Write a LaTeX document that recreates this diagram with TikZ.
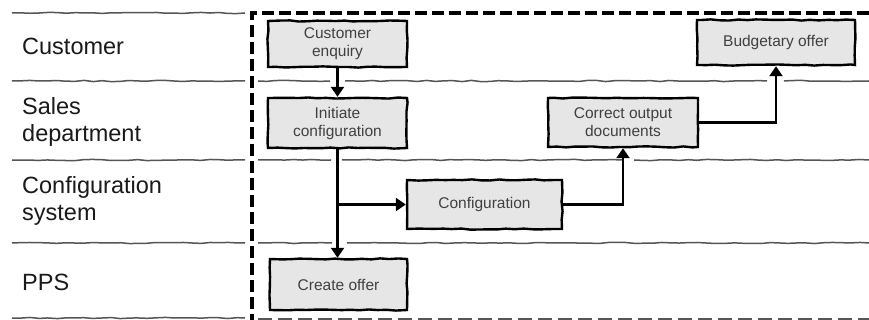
\documentclass[tikz,border=0pt]{standalone}
\usepackage{fontspec}
\setmainfont{Liberation Sans}
\usetikzlibrary{arrows.meta,decorations.pathmorphing}
\definecolor{boxfill}{HTML}{E6E6E6}
\definecolor{boxtext}{HTML}{404040}
\definecolor{lanetext}{HTML}{1A1A1A}
\definecolor{laneline}{HTML}{555555}
\begin{document}
\begin{tikzpicture}[x=1pt,y=-1pt,
  wobble/.style={decorate,decoration={random steps,segment length=9pt,amplitude=0.6pt}},
  lane/.style={draw=laneline,line width=1.5pt,wobble},
  border/.style={draw=black,line width=3.4pt,dash pattern=on 12pt off 5pt},
  lanelabel/.style={anchor=west,align=left,text=lanetext,font=\fontsize{23.5}{27}\selectfont,inner sep=0pt},
  proc/.style={draw=black,line width=2.4pt,fill=boxfill,text=boxtext,align=center,
    font=\fontsize{15.5}{18}\selectfont,inner sep=2pt,wobble},
  flow/.style={draw=black,line width=2.3pt,-{Triangle[width=13pt,length=10pt]}}]
\pgfmathsetseed{7}
\useasboundingbox (0,0) rectangle (869,320);
\fill[white] (0,0) rectangle (869,320);

% lane separator lines (left part)
\foreach \yy in {13,81,160,243,318}
  \path[lane] (12,\yy) -- (245,\yy);
% lane separator lines (right part, with gaps at crossings)
\path[lane] (258,81) -- (330,81);
\path[lane] (345,81) -- (767,81);
\path[lane] (784,81) -- (869,81);
\path[lane] (258,160) -- (331,160);
\path[lane] (342,160) -- (622,160);
\path[lane] (634,160) -- (869,160);
\path[lane] (258,243) -- (332,243);
\path[lane] (347,243) -- (869,243);

% dashed border
\path[border] (869,13) -- (252,13) -- (252,320);
\path[draw=laneline,line width=2.4pt,dash pattern=on 14pt off 6pt] (258,319) -- (869,319);

% lane labels
\node[lanelabel] (lcust) at (22,46) {Customer};
\node[lanelabel] (lsales) at (22,122) {Sales\\department};
\node[lanelabel] (lconf) at (22,201) {Configuration\\system};
\node[lanelabel] (lpps) at (22,282) {PPS};

% process boxes
\node[proc,minimum width=139pt,minimum height=46pt] (ce) at (337.5,44) {Customer\\enquiry};
\node[proc,minimum width=139pt,minimum height=50pt] (ic) at (337.5,123) {Initiate\\configuration};
\node[proc,minimum width=155pt,minimum height=49pt] (cf) at (484.5,204.5) {Configuration};
\node[proc,minimum width=137pt,minimum height=51pt] (co) at (338.5,284.5) {Create offer};
\node[proc,minimum width=150pt,minimum height=49pt] (cod) at (623,122.5) {Correct output\\documents};
\node[proc,minimum width=158pt,minimum height=45pt] (bo) at (776,42.5) {Budgetary offer};

% connectors
\coordinate (br) at (ic.south |- cf.west);
\path[flow] (ce.south) -- (ic.north);
\path[flow] (ic.south) -- (ic.south |- co.north);
\path[flow] (br) -- (cf.west);
\path[flow] (cf.east) -| (cod.south);
\path[flow] (cod.east) -| (bo.south);
\end{tikzpicture}
\end{document}
